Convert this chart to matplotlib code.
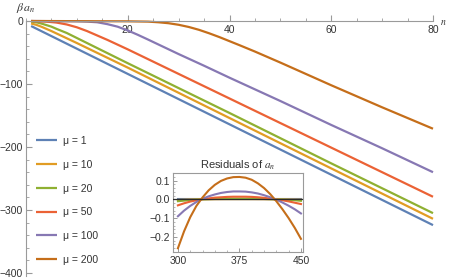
import matplotlib
matplotlib.use("Agg")
import matplotlib.pyplot as plt
from matplotlib.ticker import MultipleLocator, FixedLocator

plt.rcParams['font.family'] = ['Liberation Sans', 'DejaVu Sans']
plt.rcParams['mathtext.fontset'] = 'stix'

# ---- data ----
mu_labels = ["\u03bc = 1", "\u03bc = 10", "\u03bc = 20", "\u03bc = 50", "\u03bc = 100", "\u03bc = 200"]
colors = ["#5E81B5", "#E19C24", "#8FB032", "#EB6235", "#8778B3", "#C56E1A"]

n_mu1 = [1, 10, 20, 40, 60, 80]
a_mu1 = [-8, -44, -84, -164, -244, -324]
n_mu10 = [1, 2, 3, 5, 10, 20, 40, 60, 80]
a_mu10 = [-4, -6, -9, -16, -35, -74, -154, -234, -314]
n_mu20 = [1, 2, 3, 4, 5, 6, 8, 10, 15, 20, 40, 60, 80]
a_mu20 = [-1, -2, -4, -6.5, -9, -12.5, -19, -27, -47, -67, -146, -226, -305]
n_mu50 = [1, 4, 6, 8, 10, 12, 14, 16, 20, 30, 40, 60, 80]
a_mu50 = [0, -1, -2.5, -5.5, -10, -16, -23, -30, -45, -84, -123, -201, -279]
n_mu100 = [1, 10, 12, 14, 16, 18, 20, 22, 24, 27, 30, 35, 40, 50, 60, 70, 80]
a_mu100 = [0, -0.5, -1, -2, -5, -9, -15, -22, -29.5, -41, -52.5, -71, -90, -127, -165, -202, -240]
n_mu200 = [1, 20, 24, 26, 28, 30, 32, 34, 36, 38, 40, 42, 45, 50, 55, 60, 70, 80]
a_mu200 = [0, -0.5, -1, -2, -3.5, -6, -9.5, -14, -19.5, -25.5, -32, -38.5, -48.5, -66, -84, -102, -137, -171]

main_n = [n_mu1, n_mu10, n_mu20, n_mu50, n_mu100, n_mu200]
main_a = [a_mu1, a_mu10, a_mu20, a_mu50, a_mu100, a_mu200]

# residuals (inset)
r_x = [300, 307.5, 315, 322.5, 330, 337.5, 345, 352.5, 360, 367.5, 375,
       382.5, 390, 397.5, 405, 412.5, 420, 427.5, 435, 442.5, 450]
res_mu1 = [0.0] * 21
res_mu10 = [-0.003, -0.002, -0.001, -0.0005, 0.0, 0.0003, 0.0006, 0.0008, 0.001, 0.001, 0.001,
            0.001, 0.001, 0.0008, 0.0006, 0.0003, 0.0, -0.0005, -0.001, -0.0015, -0.002]
res_mu20 = [-0.010, -0.007, -0.004, -0.002, 0.0, 0.001, 0.002, 0.003, 0.004, 0.004, 0.004,
            0.004, 0.004, 0.003, 0.002, 0.001, 0.0, -0.002, -0.003, -0.005, -0.008]
res_mu50 = [-0.032, -0.021, -0.012, -0.005, 0.001, 0.005, 0.009, 0.011, 0.013, 0.014, 0.014,
            0.014, 0.013, 0.011, 0.008, 0.004, -0.001, -0.005, -0.011, -0.018, -0.025]
res_mu100 = [-0.090, -0.060, -0.035, -0.014, 0.003, 0.016, 0.026, 0.034, 0.039, 0.042, 0.042,
             0.041, 0.037, 0.031, 0.022, 0.011, -0.002, -0.017, -0.034, -0.053, -0.075]
res_mu200 = [-0.260, -0.170, -0.095, -0.035, 0.010, 0.048, 0.077, 0.098, 0.111, 0.118, 0.119,
             0.115, 0.104, 0.085, 0.060, 0.028, -0.010, -0.053, -0.100, -0.152, -0.210]
res_all = [res_mu1, res_mu10, res_mu20, res_mu50, res_mu100, res_mu200]

axis_color = "#9a9a9a"
text_color = "#333333"

W, H = 449, 280
fig = plt.figure(figsize=(W / 100, H / 100), dpi=100)

# main axes
ymin = -405
y_top_px = 21
y_bot_px = 21 + 0.63 * (-ymin)
ax = fig.add_axes([26 / W, 1 - y_bot_px / H, 407 / W, (y_bot_px - y_top_px) / H])
ax.set_xlim(0, 80)
ax.set_ylim(ymin, 0)

for xs, ys, c, lab in zip(main_n, main_a, colors, mu_labels):
    ax.plot(xs, ys, color=c, lw=1.6, label=lab, clip_on=False, solid_capstyle='butt',
            solid_joinstyle='round')

for s in ['top', 'right']:
    ax.spines[s].set_visible(False)
ax.spines['bottom'].set_position(('data', 0))
ax.spines['left'].set_position(('data', 0))
for s in ['bottom', 'left']:
    ax.spines[s].set_color(axis_color)
    ax.spines[s].set_linewidth(0.8)

ax.xaxis.set_major_locator(FixedLocator([20, 40, 60, 80]))
ax.xaxis.set_minor_locator(MultipleLocator(5))
ax.yaxis.set_major_locator(FixedLocator([0, -100, -200, -300, -400]))
ax.yaxis.set_minor_locator(MultipleLocator(20))
ax.tick_params(axis='x', which='both', direction='in', colors=axis_color, labelcolor=text_color,
               labelsize=7.5, pad=3)
ax.tick_params(axis='y', which='both', direction='in', colors=axis_color, labelcolor=text_color,
               labelsize=7.5, pad=2)
ax.tick_params(which='major', length=4, width=0.8)
ax.tick_params(which='minor', length=2.2, width=0.6)
ax.set_yticklabels(["0", "\u2212100", "\u2212200", "\u2212300", "\u2212400"])
ax.patch.set_alpha(0)

fig.text(26 / W, 1 - 8 / H, r"$\beta\,a_n$", ha='center', va='center', fontsize=8.5, color=text_color)
fig.text(443 / W, 1 - 22 / H, r"$n$", ha='center', va='center', fontsize=7, color=text_color)

leg = ax.legend(loc='upper left', bbox_to_anchor=(36 / W, 1 - 136 / H), bbox_transform=fig.transFigure,
                frameon=False, fontsize=7.5, handlelength=2.0, handletextpad=0.6,
                labelspacing=1.32, borderpad=0, borderaxespad=0)
for t in leg.get_texts():
    t.set_color(text_color)

# inset
iax = fig.add_axes([173 / W, 1 - 252 / H, 130 / W, 79 / H])
for r, c in zip(res_all, colors):
    iax.plot(r_x, r, color=c, lw=1.5)
iax.axhline(0, color="#2a2a2a", lw=0.9, zorder=3)
iax.set_xlim(294, 452.5)
iax.set_ylim(-0.28, 0.14)
iax.xaxis.set_major_locator(FixedLocator([300, 375, 450]))
iax.xaxis.set_minor_locator(MultipleLocator(15))
iax.yaxis.set_major_locator(FixedLocator([-0.2, -0.1, 0.0, 0.1]))
iax.yaxis.set_minor_locator(MultipleLocator(0.02))
iax.set_yticklabels(["\u22120.2", "\u22120.1", "0.0", "0.1"])
iax.tick_params(which='both', direction='in', colors=axis_color, labelcolor=text_color, labelsize=7.5,
                top=False, right=False)
iax.tick_params(which='major', length=3, width=0.7)
iax.tick_params(which='minor', length=1.6, width=0.5)
iax.tick_params(axis='x', pad=3)
iax.tick_params(axis='y', pad=2)
for s in iax.spines.values():
    s.set_color(axis_color)
    s.set_linewidth(0.8)
iax.set_title("Residuals of $a_n$", fontsize=8, color=text_color, pad=3)

fig.savefig("out.png", dpi=100)
